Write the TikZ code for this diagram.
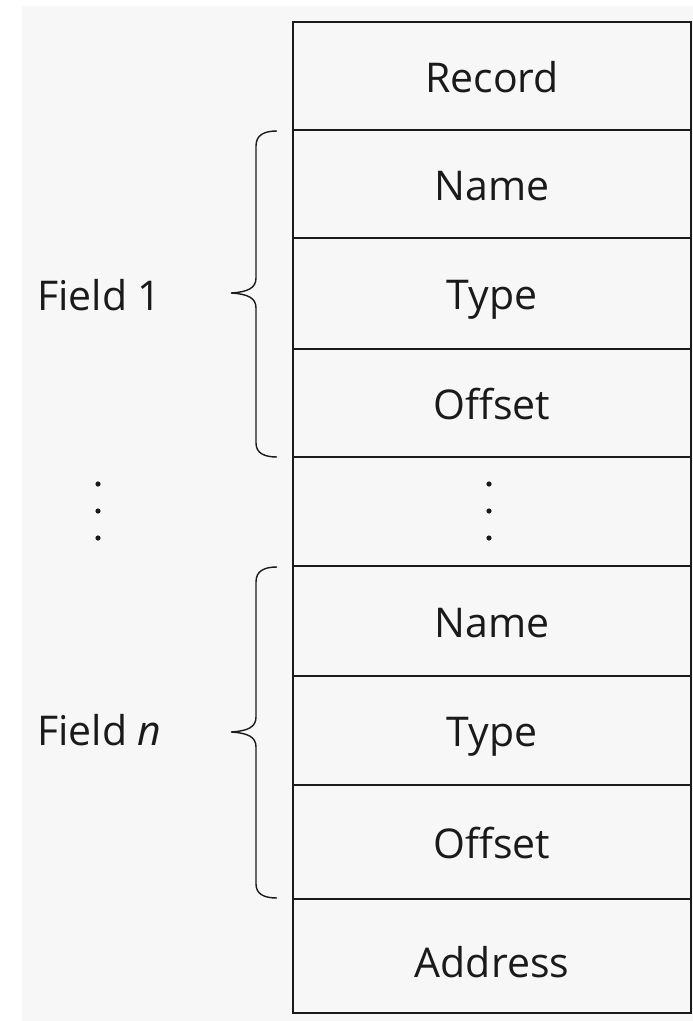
\documentclass[tikz,border=0pt]{standalone}
\usepackage{fontspec}
\setmainfont{Open Sans}
\definecolor{bggray}{HTML}{F7F7F7}
\definecolor{ink}{HTML}{1A1A1A}
\begin{document}
\begin{tikzpicture}[x=1bp,y=-1bp,
  cell/.style={draw=ink, line width=2bp, minimum width=398bp, inner sep=0pt, outer sep=0pt,
    font=\fontsize{41bp}{48bp}\selectfont, text=ink, text height=36bp, text depth=4bp},
  lbl/.style={anchor=base west, inner sep=0pt, font=\fontsize{41bp}{48bp}\selectfont, text=ink},
  bracepath/.style={draw=ink, line width=1.4bp},
  dot/.style={fill=ink}]
\useasboundingbox (0,0) rectangle (693,1021);
\fill[white] (0,0) rectangle (693,1021);
\fill[bggray] (22,6) rectangle (693,1021);
% rows
\node[cell, minimum height=108bp] (record) at (492,76) {Record};
\node[cell, minimum height=108bp] (name1) at (492,184) {Name};
\node[cell, minimum height=111bp] (type1) at (492,293.5) {Type};
\node[cell, minimum height=108bp] (offset1) at (492,403) {Offset};
\node[cell, minimum height=109bp] (gap) at (492,511.5) {};
\node[cell, minimum height=110bp] (name2) at (492,621) {Name};
\node[cell, minimum height=109bp] (type2) at (492,730.5) {Type};
\node[cell, minimum height=114bp] (offset2) at (492,842) {Offset};
\node[cell, minimum height=114bp, text height=42bp, text depth=0bp] (address) at (492,956) {Address};
% dots
\foreach \yy in {484,511,538}{
  \fill[dot] (489,\yy) circle (2.6bp);
  \fill[dot] (98,\yy) circle (2.6bp);
}
% labels
\node[lbl] (field1) at (37,310) {Field 1};
\node[lbl] (fieldn) at (37,745) {Field \textit{n}};
% braces
\draw[bracepath] (277,131) .. controls (264,131) and (256,135) .. (256,146)
  -- (256,278) .. controls (256,288) and (248,292) .. (231,293)
  .. controls (248,294) and (256,298) .. (256,308)
  -- (256,443) .. controls (256,453) and (264,457) .. (277,457);
\draw[bracepath] (277,567) .. controls (264,567) and (256,571) .. (256,582)
  -- (256,717) .. controls (256,727) and (248,731) .. (231,732)
  .. controls (248,733) and (256,737) .. (256,747)
  -- (256,884) .. controls (256,894) and (264,898) .. (277,898);
\end{tikzpicture}
\end{document}
